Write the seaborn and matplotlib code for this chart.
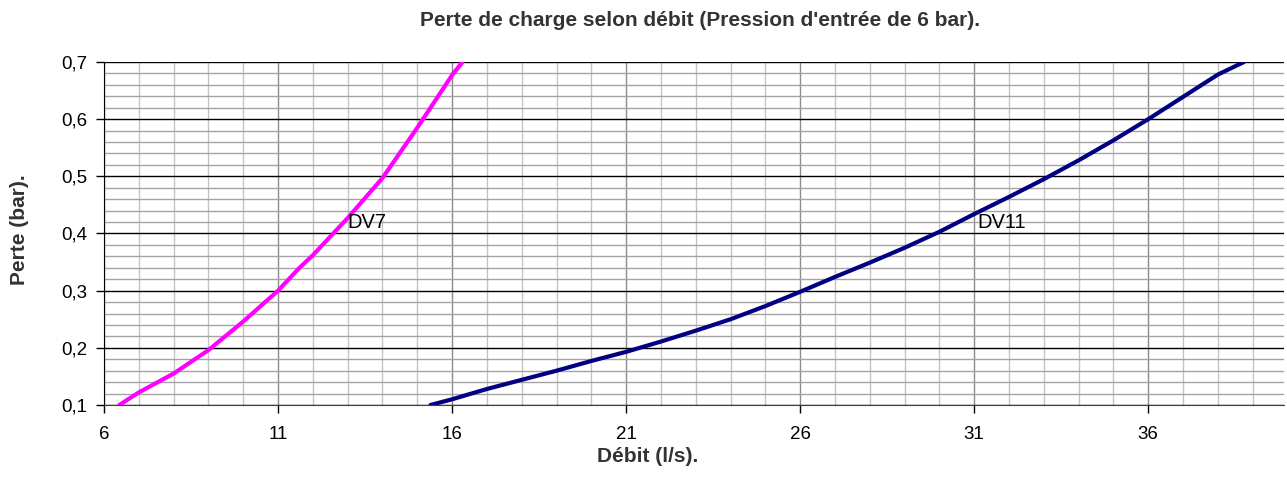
import numpy as np
import pandas as pd
import matplotlib
matplotlib.use("Agg")
import matplotlib.pyplot as plt
from matplotlib.ticker import MultipleLocator, FuncFormatter
import seaborn as sns

# Data
dv7_debit = [6.44, 7, 8, 9, 10, 11, 11.6, 12, 13, 14, 15, 16, 16.3]
dv7_perte = [0.10, 0.122, 0.155, 0.196, 0.246, 0.300, 0.339, 0.362, 0.427, 0.497, 0.585, 0.677, 0.70]
dv11_debit = [15.38, 16, 17, 18, 19, 20, 21, 22, 23, 24, 25, 26, 27, 28, 29, 30,
              31, 32, 33, 34, 35, 36, 37, 38, 38.75]
dv11_perte = [0.100, 0.110, 0.128, 0.144, 0.160, 0.177, 0.193, 0.211, 0.230, 0.250,
              0.273, 0.298, 0.324, 0.349, 0.375, 0.403, 0.434, 0.464, 0.495, 0.528,
              0.563, 0.600, 0.639, 0.678, 0.700]
labels = ["DV7", "DV11"]
label_pos = [(13.0, 0.42), (31.1, 0.42)]
colors = ["#FF00FF", "#000080"]
xticks = [6, 11, 16, 21, 26, 31, 36]

df = pd.concat([
    pd.DataFrame({"debit": dv7_debit, "perte": dv7_perte, "serie": "DV7"}),
    pd.DataFrame({"debit": dv11_debit, "perte": dv11_perte, "serie": "DV11"}),
])

sns.set_style("white")
plt.rcParams["font.family"] = ["Liberation Sans", "DejaVu Sans"]

fig = plt.figure(figsize=(12.87, 4.87), dpi=100)
ax = fig.add_axes([104 / 1287, 82 / 487, 1180 / 1287, 343 / 487])

sns.lineplot(data=df, x="debit", y="perte", hue="serie", palette=colors,
             sort=False, linewidth=3, legend=False, ax=ax)
ax.set_xlabel("")
ax.set_ylabel("")

for lab, (x, y) in zip(labels, label_pos):
    ax.text(x, y, lab, fontsize=14.5, va="center", ha="left", color="black")

ax.set_xlim(6, 39.9)
ax.set_ylim(0.1, 0.7)
ax.set_xticks(xticks)
ax.xaxis.set_minor_locator(MultipleLocator(1))
ax.yaxis.set_major_locator(MultipleLocator(0.1))
ax.yaxis.set_minor_locator(MultipleLocator(0.02))
ax.yaxis.set_major_formatter(FuncFormatter(lambda v, p: f"{v:.1f}".replace(".", ",")))
ax.xaxis.set_major_formatter(FuncFormatter(lambda v, p: f"{v:.0f}"))

ax.grid(which="minor", axis="x", color="#c4c4c4", linewidth=1)
ax.grid(which="major", axis="x", color="#8c8c8c", linewidth=1)
ax.grid(which="minor", axis="y", color="#a4a4a4", linewidth=1)
ax.grid(which="major", axis="y", color="black", linewidth=1)
ax.set_axisbelow(True)

ax.tick_params(which="major", direction="out", length=6, width=1, color="black",
               labelsize=13.5, labelcolor="black", bottom=True, left=True)
ax.tick_params(axis="x", pad=9)
ax.tick_params(axis="y", pad=6)
ax.tick_params(which="minor", length=0)

for s in ["top", "right"]:
    ax.spines[s].set_visible(False)
ax.spines["left"].set_color("black")
ax.spines["bottom"].set_color("#404040")

txt = dict(fontsize=15, fontweight="bold", color="#333333", ha="center", va="center")
fig.text(700 / 1287, 1 - 21 / 487,
         "Perte de charge selon débit (Pression d'entrée de 6 bar).", **txt)
fig.text(648 / 1287, 1 - 457 / 487, "Débit (l/s).", **txt)
fig.text(20 / 1287, 1 - 230 / 487, "Perte (bar).", rotation=90, **txt)

fig.savefig("out.png", dpi=100)
